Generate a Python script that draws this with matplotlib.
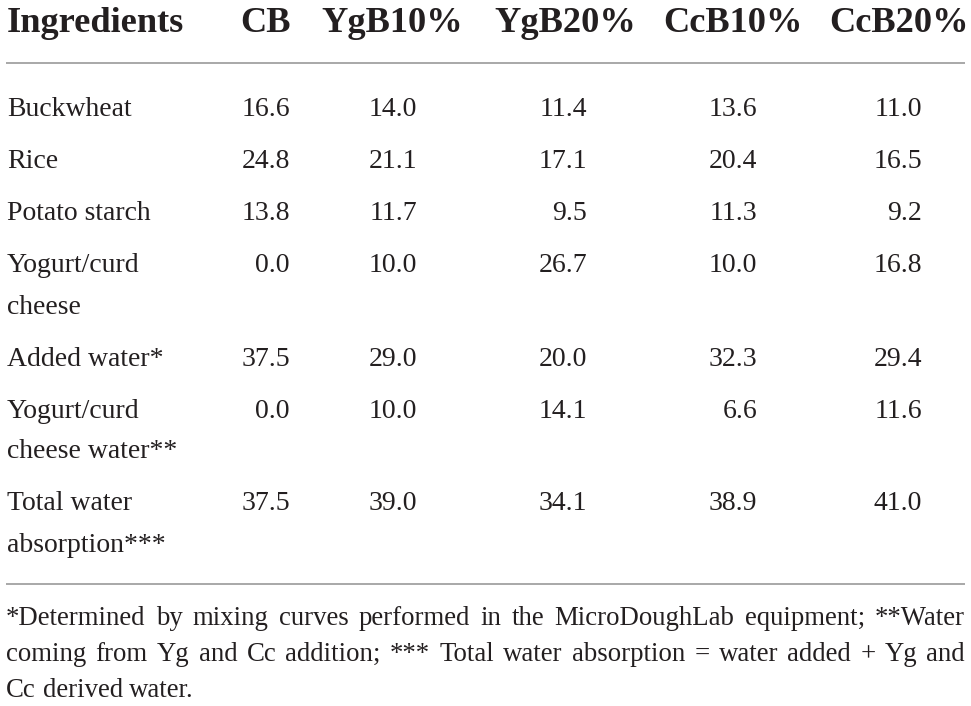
import matplotlib
matplotlib.use("Agg")
import matplotlib.pyplot as plt

# table content
columns = ["CB", "YgB10%", "YgB20%", "CcB10%", "CcB20%"]
ingredients = ["Buckwheat", "Rice", "Potato starch", "Yogurt/curd\ncheese",
               "Added water*", "Yogurt/curd\ncheese water**",
               "Total water\nabsorption***"]
cb = [16.6, 24.8, 13.8, 0.0, 37.5, 0.0, 37.5]
ygb10 = [14.0, 21.1, 11.7, 10.0, 29.0, 10.0, 39.0]
ygb20 = [11.4, 17.1, 9.5, 26.7, 20.0, 14.1, 34.1]
ccb10 = [13.6, 20.4, 11.3, 10.0, 32.3, 6.6, 38.9]
ccb20 = [11.0, 16.5, 9.2, 16.8, 29.4, 11.6, 41.0]
footnote_lines = [
    "*Determined by mixing curves performed in the MicroDoughLab equipment; **Water",
    "coming from Yg and Cc addition; *** Total water absorption = water added + Yg and",
    "Cc derived water.",
]

TXT = "#231f20"
RULE = "#9a9a9a"
FONT = "Liberation Serif"

# layout (pixels)
W, H = 971, 706
left, right = 6, 965
head_centers = [266, 392.5, 565, 732.5, 899]
val_right = [290, 417, 587, 757, 922]
line_h = 41
row_gap = 52

fig = plt.figure(figsize=(W / 100, H / 100), dpi=100)
ax = fig.add_axes([0, 0, 1, 1])
ax.set_xlim(0, W)
ax.set_ylim(H, 0)
ax.axis("off")

# header
ax.text(7, 32, "Ingredients", fontsize=26.2, fontweight="bold", family=FONT,
        color=TXT, ha="left", va="baseline")
for name, xc in zip(columns, head_centers):
    ax.text(xc, 32, name, fontsize=26.2, fontweight="bold", family=FONT,
            color=TXT, ha="center", va="baseline")
ax.plot([left, right], [63, 63], color=RULE, lw=1.2, solid_capstyle="butt")

# body rows
values = [cb, ygb10, ygb20, ccb10, ccb20]
y = 116.5
for i, label in enumerate(ingredients):
    parts = label.split("\n")
    for j, part in enumerate(parts):
        ax.text(7, y + j * line_h, part, fontsize=20, family=FONT, color=TXT,
                ha="left", va="baseline")
    for col, xr in zip(values, val_right):
        ax.text(xr, y, f"{col[i]:.1f}", fontsize=20, family=FONT, color=TXT,
                ha="right", va="baseline")
    y += row_gap + line_h * (len(parts) - 1)

ax.plot([left, right], [584, 584], color=RULE, lw=1.2, solid_capstyle="butt")

# footnote, justified over the table width (last line left aligned)
fig.canvas.draw()
renderer = fig.canvas.get_renderer()
fn_size = 19.3


def word_width(w, size):
    t = ax.text(0, 0, w, fontsize=size, family=FONT)
    wd = t.get_window_extent(renderer).width
    t.remove()
    return wd


space = word_width("a b", fn_size) - word_width("ab", fn_size)

fy = 625
for k, line in enumerate(footnote_lines):
    words = line.split(" ")
    widths = [word_width(w, fn_size) for w in words]
    if k < len(footnote_lines) - 1:
        gap = (right - left - sum(widths)) / (len(words) - 1)
    else:
        gap = space
    x = left
    for w, wd in zip(words, widths):
        ax.text(x, fy, w, fontsize=fn_size, family=FONT, color=TXT,
                ha="left", va="baseline")
        x += wd + gap
    fy += 36

fig.savefig("out.png", dpi=100, facecolor="white")
